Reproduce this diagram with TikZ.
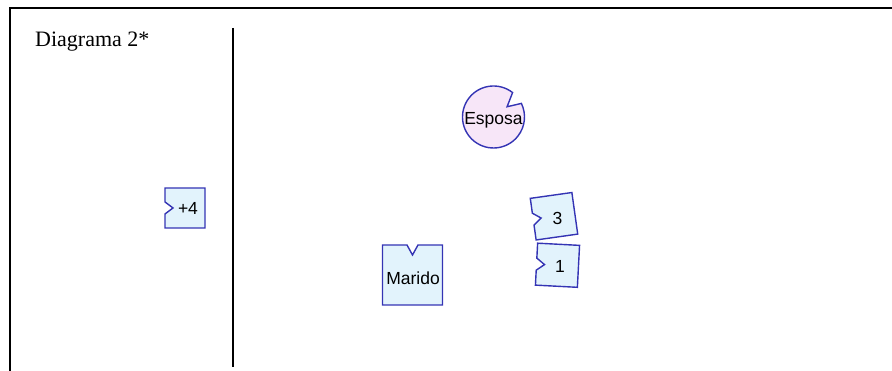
\documentclass[tikz,border=0pt]{standalone}
\usepackage{fontspec}
\usetikzlibrary{calc}
\setmainfont{Liberation Serif}
\newfontfamily\pieceFont{Liberation Sans}
\definecolor{edgeblue}{HTML}{3434B4}
\definecolor{bluefill}{HTML}{E2F3FC}
\definecolor{pinkfill}{HTML}{F7E6F8}
\tikzset{
  frameline/.style={line width=2.5pt, black},
  piece/.style={draw=edgeblue, fill=bluefill, line width=1.4pt, line join=miter},
  roundpiece/.style={draw=edgeblue, fill=pinkfill, line width=1.4pt},
  lbl/.style={font=\pieceFont\fontsize{17.5}{19}\selectfont, inner sep=0pt},
}
\begin{document}
\begin{tikzpicture}[x=1pt,y=1pt]
\useasboundingbox (0,0) rectangle (892,371);
% frame
\coordinate (fb) at (10,0);
\coordinate (fc) at (10,363);
\coordinate (fr) at (892,363);
\draw[frameline] (fb) -- (fc) -- (fr);
% divider
\coordinate (d1) at (233,343);
\coordinate (d2) at (233,4);
\draw[frameline] (d1) -- (d2);
% title
\node[anchor=base west, inner sep=0pt, font=\fontsize{22}{24}\selectfont] (title) at (35,324) {Diagrama 2*};
% Esposa
\coordinate (ec) at (493.5,254);
\draw[roundpiece] (ec) ++(52:31) arc[start angle=52, end angle=386, radius=31] -- ($(ec)+(37:17)$) -- cycle;
\node[lbl] (esposa) at (493.5,251) {Esposa};
% +4
\draw[piece] (165,143) -- (205,143) -- (205,183) -- (165,183) -- (165,169) -- (173,163) -- (165,157) -- cycle;
\node[lbl] (p4) at (188,163) {+4};
% Marido
\draw[piece] (382.5,66) -- (442.5,66) -- (442.5,126) -- (418,126) -- (412.5,116) -- (407,126) -- (382.5,126) -- cycle;
\node[lbl] (marido) at (413,93) {Marido};
% 3
\begin{scope}[shift={(554,154.75)}, rotate=8]
\draw[piece] (-21,-21) -- (21,-21) -- (21,21) -- (-21,21) -- (-21,6) -- (-13,0) -- (-21,-6) -- cycle;
\end{scope}
\node[lbl] (three) at (557.5,153) {3};
% 1
\begin{scope}[shift={(557.5,105.75)}, rotate=-3]
\draw[piece] (-21,-21) -- (21,-21) -- (21,21) -- (-21,21) -- (-21,6) -- (-13,0) -- (-21,-6) -- cycle;
\end{scope}
\node[lbl] (one) at (560,105) {1};
\end{tikzpicture}
\end{document}
